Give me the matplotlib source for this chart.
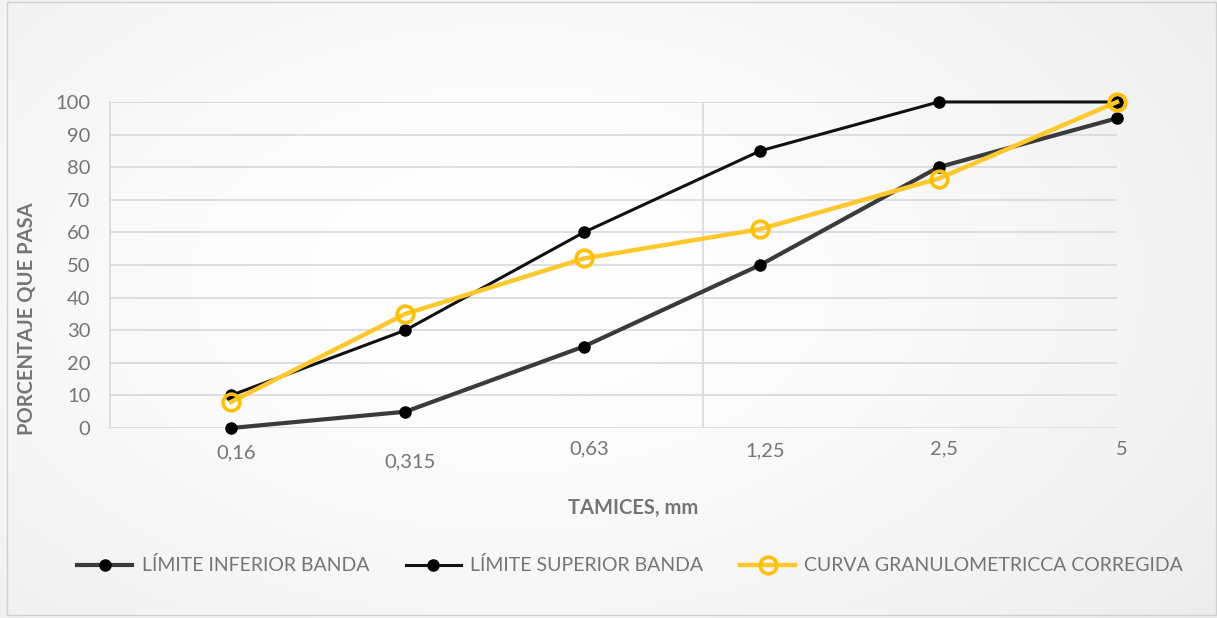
import numpy as np
import matplotlib.pyplot as plt
from matplotlib.transforms import blended_transform_factory
from matplotlib.patches import Rectangle

plt.rcParams['font.family'] = ['Lato', 'DejaVu Sans']

# tamices (mm) y porcentajes que pasan
tamices = [0.16, 0.315, 0.63, 1.25, 2.5, 5]
etiquetas = ['0,16', '0,315', '0,63', '1,25', '2,5', '5']
lim_inferior = [0, 5, 25, 50, 80, 95]
lim_superior = [10, 30, 60, 85, 100, 100]
curva = [8, 35, 52, 61, 76.5, 100]

gris_txt = '#757575'

fig = plt.figure(figsize=(12.17, 6.18), dpi=100)

# fondo con degradado radial suave
bg = fig.add_axes([0, 0, 1, 1], zorder=-10)
yy, xx = np.mgrid[0:1:300j, 0:1:600j]
r = np.sqrt(((xx - 0.42) / 0.75) ** 2 + ((yy - 0.55) / 0.9) ** 2)
shade = 1.0 - 0.075 * np.clip(r, 0, 1) ** 1.5
bg.imshow(np.dstack([shade] * 3), extent=[0, 1, 0, 1], aspect='auto', origin='lower')
bg.set_axis_off()
fig.patches.append(Rectangle((0.006, 0.005), 0.993, 0.992, transform=fig.transFigure,
                             fill=False, edgecolor='#d0d0d0', lw=1))

ax = fig.add_axes([0.0904, 0.3074, 0.8274, 0.5276])
ax.patch.set_alpha(0)
ax.set_xscale('log')
ax.set_xlim(0.1, 5)
ax.set_ylim(0, 100)
ax.set_yticks(range(0, 101, 10))
ax.set_xticks([1])
ax.set_xticklabels([])
ax.xaxis.set_minor_locator(plt.NullLocator())
ax.grid(axis='y', color='#d9d9d9', lw=1.2)
ax.grid(axis='x', color='#d9d9d9', lw=1.2)
ax.tick_params(length=0, labelsize=14.5, labelcolor=gris_txt, pad=14)
for s in ['top', 'right', 'bottom']:
    ax.spines[s].set_visible(False)
ax.spines['left'].set_color('#d9d9d9')
ax.spines['left'].set_linewidth(1.2)

ax.plot(tamices, lim_inferior, color='#3a3a3a', lw=3, marker='o', ms=8,
        mfc='black', mec='black', label='LÍMITE INFERIOR BANDA', zorder=3, clip_on=False)
ax.plot(tamices, lim_superior, color='#111111', lw=2.2, marker='o', ms=8,
        mfc='black', mec='black', label='LÍMITE SUPERIOR BANDA', zorder=4, clip_on=False)
ax.plot(tamices, curva, color='#FFC82A', lw=3.2, marker='o', ms=12,
        mfc='none', mec='#FFC000', mew=2.6, label='CURVA GRANULOMETRICCA CORREGIDA',
        zorder=5, clip_on=False)

# etiquetas de los tamices bajo cada punto
trans = blended_transform_factory(ax.transData, ax.transAxes)
desfase_y = [-0.075, -0.105, -0.065, -0.07, -0.065, -0.065]
for x, t, dy in zip(tamices, etiquetas, desfase_y):
    ax.text(x * 1.02, dy, t, transform=trans, ha='center', va='center',
            fontsize=14.5, color=gris_txt)

fig.text(0.52, 0.178, 'TAMICES, mm', ha='center', va='center', fontsize=14.5,
         fontweight='bold', color=gris_txt)
fig.text(0.022, 0.485, 'PORCENTAJE QUE PASA', ha='center', va='center', rotation=90,
         fontsize=14.5, fontweight='bold', color=gris_txt)

leg = fig.legend(loc='center', bbox_to_anchor=(0.518, 0.085), ncol=3, frameon=False,
                 fontsize=14, handlelength=2.8, columnspacing=1.9, handletextpad=0.5)
for t in leg.get_texts():
    t.set_color(gris_txt)

fig.savefig('out.png', dpi=100)
